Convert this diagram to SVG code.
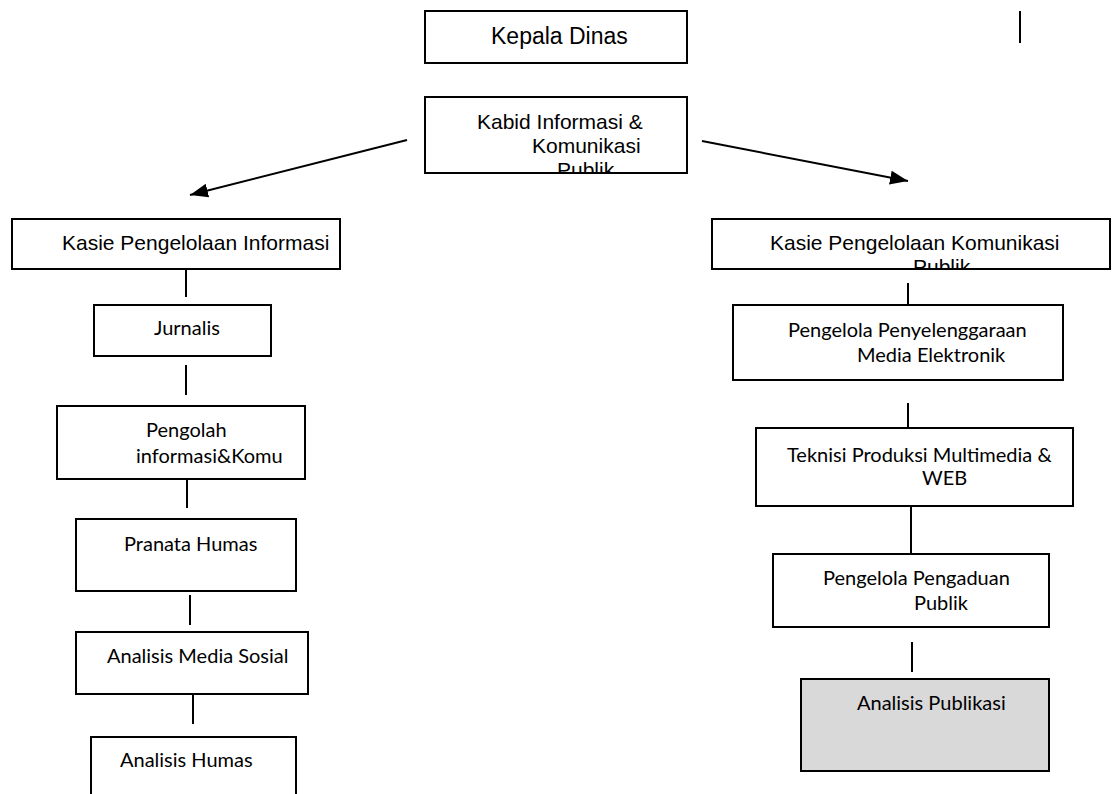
<svg xmlns="http://www.w3.org/2000/svg" width="1113" height="794" viewBox="0 0 1113 794">
  <style>
    .box { fill: #ffffff; stroke: #000000; stroke-width: 2; }
    .box.shaded { fill: #d9d9d9; }
    .conn { stroke: #000000; stroke-width: 2; fill: none; }
    .arrow { stroke: #000000; stroke-width: 2; fill: none; marker-end: url(#head); }
    .t1 { font-family: "Liberation Sans", Arial, sans-serif; font-size: 21px; fill: #000000; }
    .big { font-size: 23px; }
    .t2 { font-family: Lato, "Noto Sans", sans-serif; font-size: 20px; fill: #000000; }
  </style>
  <defs>
    <marker id="head" viewBox="0 0 18 14" refX="18" refY="7" markerWidth="18" markerHeight="14" markerUnits="userSpaceOnUse" orient="auto">
      <path d="M0,0 L18,7 L0,14 Z" fill="#000000"/>
    </marker>
    <!-- inner areas of the boxes whose last text line overflows -->
    <clipPath id="clipKabid"><rect x="426" y="98" width="260" height="74"/></clipPath>
    <clipPath id="clipKasieKom"><rect x="713" y="220" width="396" height="48"/></clipPath>
  </defs>

  <!-- connectors -->
  <g id="connectors">
    <line class="arrow" x1="407" y1="140" x2="190" y2="195"/>
    <line class="arrow" x1="702" y1="141" x2="908" y2="181"/>
    <line class="conn" x1="1020" y1="11" x2="1020" y2="43"/>
    <!-- left column -->
    <line class="conn" x1="186" y1="268" x2="186" y2="297"/>
    <line class="conn" x1="186" y1="365" x2="186" y2="395"/>
    <line class="conn" x1="187" y1="479" x2="187" y2="508"/>
    <line class="conn" x1="190" y1="595" x2="190" y2="625"/>
    <line class="conn" x1="193" y1="694" x2="193" y2="724"/>
    <!-- right column -->
    <line class="conn" x1="908" y1="283" x2="908" y2="313"/>
    <line class="conn" x1="908" y1="403" x2="908" y2="433"/>
    <line class="conn" x1="911" y1="506" x2="911" y2="553"/>
    <line class="conn" x1="912" y1="642" x2="912" y2="672"/>
  </g>

  <g id="kepala-dinas">
    <rect class="box" x="425" y="11" width="262" height="52"/>
    <text class="t1 big" x="491" y="44">Kepala Dinas</text>
  </g>

  <g id="kabid">
    <rect class="box" x="425" y="97" width="262" height="76"/>
    <g clip-path="url(#clipKabid)">
      <text class="t1" x="477" y="129">Kabid Informasi &amp;</text>
      <text class="t1" x="532" y="153">Komunikasi</text>
      <text class="t1" x="557" y="177">Publik</text>
    </g>
    <rect x="425" y="97" width="262" height="76" fill="none" stroke="#000" stroke-width="2"/>
  </g>

  <g id="kasie-informasi">
    <rect class="box" x="12" y="219" width="328" height="50"/>
    <text class="t1" x="62" y="250">Kasie Pengelolaan Informasi</text>
  </g>

  <g id="kasie-komunikasi">
    <rect class="box" x="712" y="219" width="398" height="50"/>
    <g clip-path="url(#clipKasieKom)">
      <text class="t1" x="770" y="250">Kasie Pengelolaan Komunikasi</text>
      <text class="t1" x="913" y="274">Publik</text>
    </g>
    <rect x="712" y="219" width="398" height="50" fill="none" stroke="#000" stroke-width="2"/>
  </g>

  <g id="jurnalis">
    <rect class="box" x="94" y="305" width="177" height="51"/>
    <text class="t2" x="154" y="335">Jurnalis</text>
  </g>

  <g id="pengolah">
    <rect class="box" x="57" y="406" width="248" height="73"/>
    <text class="t2" x="146" y="437">Pengolah</text>
    <text class="t2" x="136" y="463">informasi&amp;Komu</text>
  </g>

  <g id="pranata-humas">
    <rect class="box" x="76" y="519" width="220" height="72"/>
    <text class="t2" x="124" y="551">Pranata Humas</text>
  </g>

  <g id="analisis-media-sosial">
    <rect class="box" x="76" y="632" width="232" height="62"/>
    <text class="t2" x="107" y="663">Analisis Media Sosial</text>
  </g>

  <g id="analisis-humas">
    <rect class="box" x="91" y="737" width="205" height="70"/>
    <text class="t2" x="120" y="767">Analisis Humas</text>
  </g>

  <g id="pengelola-media">
    <rect class="box" x="733" y="305" width="330" height="75"/>
    <text class="t2" x="788" y="337">Pengelola Penyelenggaraan</text>
    <text class="t2" x="857" y="362">Media Elektronik</text>
  </g>

  <g id="teknisi">
    <rect class="box" x="756" y="428" width="317" height="78"/>
    <text class="t2" x="787" y="462">Teknisi Produksi Multimedia &amp;</text>
    <text class="t2" x="922" y="485">WEB</text>
  </g>

  <g id="pengaduan">
    <rect class="box" x="773" y="554" width="276" height="73"/>
    <text class="t2" x="823" y="585">Pengelola Pengaduan</text>
    <text class="t2" x="914" y="610">Publik</text>
  </g>

  <g id="analisis-publikasi">
    <rect class="box shaded" x="801" y="679" width="248" height="92"/>
    <text class="t2" x="857" y="710">Analisis Publikasi</text>
  </g>
</svg>
